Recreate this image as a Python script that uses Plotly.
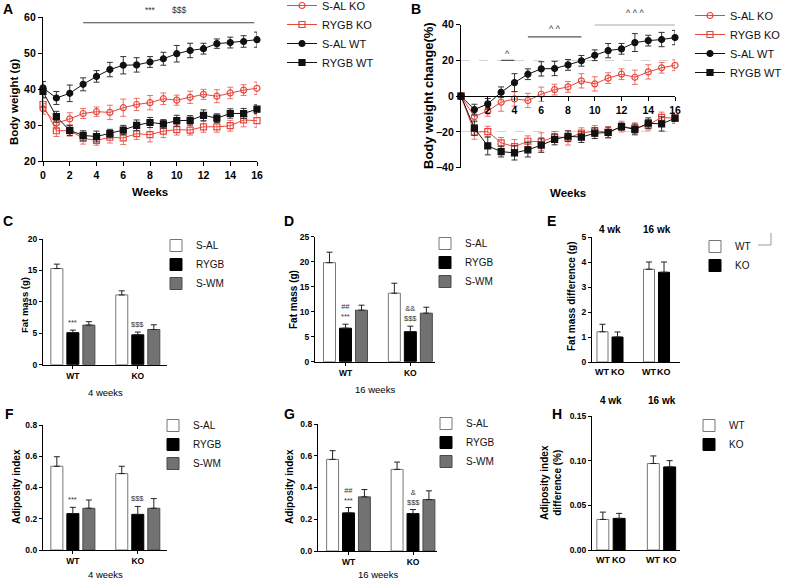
import plotly.graph_objects as go

W, H = 787, 581
FONT = "Liberation Sans, Arial, Helvetica, sans-serif"
RED = "#e8463c"
RED_ERR = "rgba(232,70,60,0.75)"
BLK = "#111111"
BLK_ERR = "#333333"

# ---------------- Panel A / B data ----------------
weeks = list(range(17))
series_names = ["S-AL KO", "RYGB KO", "S-AL WT", "RYGB WT"]

bw_sal_ko = [34.5, 30.5, 31.7, 33.2, 33.7, 33.5, 34.8, 35.7, 36.2, 37.3, 36.9, 37.7, 38.5, 38.0, 38.9, 39.7, 40.2]
bw_sal_ko_err = [1.5, 1.5, 1.7, 1.4, 1.3, 2.0, 2.4, 1.7, 2.0, 1.6, 1.4, 1.7, 1.4, 1.8, 1.6, 1.5, 1.7]
bw_rygb_ko = [35.7, 28.4, 28.4, 26.3, 25.7, 26.6, 26.4, 27.6, 27.3, 28.3, 28.7, 28.6, 29.5, 29.5, 29.8, 31.4, 31.2]
bw_rygb_ko_err = [1.7, 1.6, 1.5, 1.6, 1.3, 1.6, 1.8, 1.6, 2.0, 1.8, 1.5, 1.4, 1.5, 1.5, 1.5, 1.9, 1.8]
bw_sal_wt = [40.3, 37.5, 38.8, 41.3, 43.5, 45.4, 46.6, 46.7, 47.5, 48.4, 49.8, 50.7, 51.2, 52.6, 52.9, 53.2, 53.7]
bw_sal_wt_err = [1.8, 1.8, 2.3, 1.8, 1.6, 2.0, 2.4, 2.0, 1.5, 1.8, 2.3, 2.0, 1.5, 1.3, 1.5, 1.6, 2.1]
bw_rygb_wt = [39.3, 32.3, 28.5, 27.1, 26.8, 27.6, 28.6, 29.9, 30.7, 30.3, 31.2, 31.3, 32.7, 31.9, 33.2, 33.2, 34.4]
bw_rygb_wt_err = [1.6, 1.5, 1.4, 1.3, 1.5, 1.2, 1.3, 1.5, 1.4, 1.2, 1.5, 1.3, 1.5, 1.2, 1.3, 1.4, 1.2]

pct_sal_ko = [0, -11.4, -8.2, -3.4, -1.5, -2.4, 1.1, 3.7, 5.2, 8.6, 6.9, 10.1, 12.3, 10.6, 13.6, 15.9, 17.3]
pct_sal_ko_err = [0, 3, 3, 5, 4, 4, 4, 3, 3, 4, 4, 3, 3, 4, 4, 3, 3]
pct_rygb_ko = [0, -20.1, -19.8, -26.1, -28.2, -25.2, -25.5, -22.7, -23.3, -20.7, -19.4, -20.1, -17.0, -17.9, -16.0, -11.9, -12.3]
pct_rygb_ko_err = [0, 4, 3, 3, 4, 3, 5, 3, 4, 3, 3, 3, 3, 3, 3, 3, 3]
pct_sal_wt = [0, -7.5, -4.3, 2.2, 7.6, 12.3, 15.3, 15.5, 17.5, 19.8, 22.9, 25.5, 26.5, 30.0, 31.1, 31.7, 32.8]
pct_sal_wt_err = [0, 3, 3, 3, 5, 3, 4, 4, 3, 3, 3, 4, 3, 5, 3, 4, 4]
pct_rygb_wt = [0, -17.9, -27.8, -31.0, -31.7, -30.0, -27.4, -24.2, -22.4, -22.9, -20.7, -20.3, -17.0, -18.6, -15.1, -15.5, -12.3]
pct_rygb_wt_err = [0, 4, 5, 3, 4, 4, 4, 3, 3, 3, 3, 3, 2, 3, 3, 4, 2]

# significance bars (start week, end week, y value) and labels (text, week, y)
sig_A = [(3.0, 15.8, 58.4)]
sig_A_text = [("***", 8.0, 10), ("$$$", 10.2, 10)]
sig_B = [(3, 4, 20), (5, 9, 33.2), (10, 16, 40)]
sig_B_text = [("^", 3.5, 23.5), ("^ ^", 7, 37.5), ("^ ^ ^", 13, 46.5)]

# ---------------- Bar panel data ----------------
groups = ["WT", "KO"]
bar_names = ["S-AL", "RYGB", "S-WM"]

fat4_sal, fat4_sal_err = [15.3, 11.1], [0.7, 0.65]
fat4_rygb, fat4_rygb_err = [5.1, 4.75], [0.4, 0.45]
fat4_swm, fat4_swm_err = [6.3, 5.6], [0.55, 0.75]

fat16_sal, fat16_sal_err = [19.8, 13.7], [2.1, 2.0]
fat16_rygb, fat16_rygb_err = [6.7, 6.0], [0.8, 1.1]
fat16_swm, fat16_swm_err = [10.3, 9.7], [1.0, 1.2]

adi4_sal, adi4_sal_err = [0.536, 0.489], [0.061, 0.047]
adi4_rygb, adi4_rygb_err = [0.233, 0.228], [0.040, 0.051]
adi4_swm, adi4_swm_err = [0.267, 0.267], [0.053, 0.062]

adi16_sal, adi16_sal_err = [0.577, 0.514], [0.055, 0.046]
adi16_rygb, adi16_rygb_err = [0.240, 0.236], [0.034, 0.025]
adi16_swm, adi16_swm_err = [0.341, 0.324], [0.046, 0.055]

timepoints = ["4 wk", "16 wk"]
geno_names = ["WT", "KO"]
fatdiff_wt, fatdiff_wt_err = [1.21, 3.71], [0.30, 0.29]
fatdiff_ko, fatdiff_ko_err = [1.0, 3.59], [0.20, 0.41]
adidiff_wt, adidiff_wt_err = [0.0342, 0.0968], [0.0082, 0.0085]
adidiff_ko, adidiff_ko_err = [0.0354, 0.0930], [0.0056, 0.0070]

# significance labels on RYGB bars
sig_C = ["***", "$$$"]
sig_D = ["##<br>***", "&&<br>$$$"]
sig_F = ["***", "$$$"]
sig_G = ["##<br>***", "&<br>$$$"]

# ---------------- Figure ----------------
fig = go.Figure()


def xd(a, b):
    return [a / W, b / W]


def yd(top, bottom):
    return [1 - bottom / H, 1 - top / H]


axis_base = dict(showline=True, linecolor="black", linewidth=1.3, ticks="outside", automargin=False,
                 ticklen=4, tickwidth=1.3, tickcolor="black", showgrid=False, zeroline=False)

# --- Panels A & B (line charts) ---
line_specs = [
    (bw_sal_ko, bw_sal_ko_err, pct_sal_ko, pct_sal_ko_err, RED, RED_ERR, "circle-open"),
    (bw_rygb_ko, bw_rygb_ko_err, pct_rygb_ko, pct_rygb_ko_err, RED, RED_ERR, "square-open"),
    (bw_sal_wt, bw_sal_wt_err, pct_sal_wt, pct_sal_wt_err, BLK, BLK_ERR, "circle"),
    (bw_rygb_wt, bw_rygb_wt_err, pct_rygb_wt, pct_rygb_wt_err, BLK, BLK_ERR, "square"),
]
for name, (bw, bwe, pc, pce, col, ecol, sym) in zip(series_names, line_specs):
    for (yv, ev, ax, lg) in [(bw, bwe, "", "legend"), (pc, pce, "2", "legend2")]:
        fig.add_trace(go.Scatter(
            x=weeks, y=yv, name=name, mode="lines+markers",
            error_y=dict(type="data", array=ev, color=ecol, thickness=1, width=3),
            line=dict(color=col, width=1),
            marker=dict(symbol=sym, size=6, color=col, line=dict(color=col, width=1.2)),
            xaxis="x" + ax, yaxis="y" + ax, legend=lg, cliponaxis=False))

tickfont_big = dict(family=FONT, size=10.5, color="black", weight="bold")
fig.update_layout(
    xaxis=dict(axis_base, domain=xd(43, 257), range=[0, 16], tickvals=list(range(0, 17, 2)),
               tickfont=tickfont_big, anchor="y"),
    yaxis=dict(axis_base, domain=yd(17, 161), range=[20, 60], tickvals=[20, 30, 40, 50, 60],
               tickfont=tickfont_big, anchor="x"),
    xaxis2=dict(axis_base, domain=xd(461, 675), range=[0, 16], tickvals=list(range(2, 17, 2)),
                tickfont=tickfont_big, anchor="free", position=1 - 96.3 / H),
    yaxis2=dict(axis_base, domain=yd(24.7, 167.7), range=[-40, 40], tickvals=[-40, -20, 0, 20, 40],
                tickfont=tickfont_big, anchor="x2", showgrid=True, gridcolor="#d4d4d4",
                griddash="dash", gridwidth=1),
)

# --- Bar panels with three groups (C, D, F, G) ---
bar_style = [("white", "#777777"), ("black", "black"), ("#727272", "#4a4a4a")]


def bar3(ax, data, lg):
    for name, (vals, errs), (fill, outline) in zip(bar_names, data, bar_style):
        fig.add_trace(go.Bar(
            x=groups, y=vals, name=name,
            error_y=dict(type="data", symmetric=False, array=errs, arrayminus=[0] * len(vals),
                         color="#222222", thickness=1, width=3),
            marker=dict(color=fill, line=dict(color=outline, width=1)),
            xaxis="x" + ax, yaxis="y" + ax, legend=lg))


bar3("3", [(fat4_sal, fat4_sal_err), (fat4_rygb, fat4_rygb_err), (fat4_swm, fat4_swm_err)], "legend3")
bar3("4", [(fat16_sal, fat16_sal_err), (fat16_rygb, fat16_rygb_err), (fat16_swm, fat16_swm_err)], "legend4")
bar3("6", [(adi4_sal, adi4_sal_err), (adi4_rygb, adi4_rygb_err), (adi4_swm, adi4_swm_err)], "legend6")
bar3("7", [(adi16_sal, adi16_sal_err), (adi16_rygb, adi16_rygb_err), (adi16_swm, adi16_swm_err)], "legend7")

# --- Difference panels (E, H): two bars per time point ---
diff_off = [-0.28, 0.043]
diff_w = 0.237
diff_style = [("white", "#777777"), ("black", "black")]


def bar2(ax, data, lg):
    for name, (vals, errs), (fill, outline), off in zip(geno_names, data, diff_style, diff_off):
        fig.add_trace(go.Bar(
            x=timepoints, y=vals, name=name, offset=off, width=diff_w,
            error_y=dict(type="data", symmetric=False, array=errs, arrayminus=[0] * len(vals),
                         color="#222222", thickness=1, width=3),
            marker=dict(color=fill, line=dict(color=outline, width=1)),
            xaxis="x" + ax, yaxis="y" + ax, legend=lg))


bar2("5", [(fatdiff_wt, fatdiff_wt_err), (fatdiff_ko, fatdiff_ko_err)], "legend5")
bar2("8", [(adidiff_wt, adidiff_wt_err), (adidiff_ko, adidiff_ko_err)], "legend8")

tf_small = dict(family=FONT, size=8.5, color="black", weight="bold")
small_axis = dict(axis_base, ticklen=3, linewidth=1.2, tickwidth=1.2)
fig.update_layout(
    xaxis3=dict(small_axis, type="category", domain=xd(43, 167), range=[-0.46, 1.45], tickfont=tf_small, anchor="y3"),
    yaxis3=dict(small_axis, domain=yd(239, 364.7), range=[0, 20], tickvals=[0, 5, 10, 15, 20], tickfont=tf_small, anchor="x3"),
    xaxis4=dict(small_axis, type="category", domain=xd(315, 435), range=[-0.47, 1.38], tickfont=tf_small, anchor="y4"),
    yaxis4=dict(small_axis, domain=yd(236.7, 361.7), range=[0, 25], tickvals=[0, 5, 10, 15, 20, 25], tickfont=tf_small, anchor="x4"),
    xaxis5=dict(small_axis, type="category", domain=xd(592, 680), range=[-0.387, 1.505], showticklabels=False, ticks="", anchor="y5"),
    yaxis5=dict(small_axis, domain=yd(237, 362), range=[0, 5], tickvals=[0, 1, 2, 3, 4, 5], tickfont=tf_small, anchor="x5"),
    xaxis6=dict(small_axis, type="category", domain=xd(43, 167), range=[-0.46, 1.45], tickfont=tf_small, anchor="y6"),
    yaxis6=dict(small_axis, domain=yd(425, 550), range=[0, 0.8], tickvals=[0, 0.2, 0.4, 0.6, 0.8], tickformat=".1f", tickfont=tf_small, anchor="x6"),
    xaxis7=dict(small_axis, type="category", domain=xd(318, 437), range=[-0.473, 1.372], tickfont=tf_small, anchor="y7"),
    yaxis7=dict(small_axis, domain=yd(424, 551), range=[0, 0.8], tickvals=[0, 0.2, 0.4, 0.6, 0.8], tickformat=".1f", tickfont=tf_small, anchor="x7"),
    xaxis8=dict(small_axis, type="category", domain=xd(592, 680), range=[-0.376, 1.366], showticklabels=False, ticks="", anchor="y8"),
    yaxis8=dict(small_axis, domain=yd(416, 550), range=[0, 0.15], tickvals=[0, 0.05, 0.10, 0.15], tickformat=".2f", tickfont=tf_small, anchor="x8"),
)


# --- Legends ---
def leg(xpx, ypx, size, xanchor="left"):
    return dict(x=xpx / W, y=1 - ypx / H, xanchor=xanchor, yanchor="top",
                font=dict(family=FONT, size=size, color="#111111"),
                bgcolor="rgba(0,0,0,0)", borderwidth=0, tracegroupgap=0, itemwidth=30)


fig.update_layout(
    legend=leg(282, -9, 11), legend2=leg(W, 1, 11, xanchor="right"),
    legend3=leg(156, 231, 10), legend4=leg(425, 229, 10), legend5=leg(695, 232, 10),
    legend6=leg(153, 411, 10), legend7=leg(426, 409, 10), legend8=leg(689, 411, 10),
)

ann = []


def text(x, y, s, size, bold=False, xref="paper", yref="paper", angle=0, color="black",
         xanchor="center", yanchor="middle", **kw):
    ann.append(dict(x=x, y=y, text=s, xref=xref, yref=yref, showarrow=False, textangle=angle,
                    xanchor=xanchor, yanchor=yanchor,
                    font=dict(family=FONT, size=size, color=color, weight="bold" if bold else "normal"), **kw))


def px(xp, yp):
    return xp / W, 1 - yp / H


# panel letters
for letter, (lx, ly) in zip("ABCDEFGH", [(8, 9), (416, 9), (8, 221), (289, 221), (551, 221), (9, 414), (289, 414), (557, 414)]):
    text(*px(lx, ly), letter, 14, bold=True)

# axis titles
text(*px(14, 102), "Body weight (g)", 11.5, bold=True, angle=-90)
text(*px(150, 192), "Weeks", 11.5, bold=True)
text(*px(428, 96), "Body weight change(%)", 13, bold=True, angle=-90)
text(*px(568, 193), "Weeks", 11.5, bold=True)
text(*px(24, 305), "Fat mass (g)", 9.5, bold=True, angle=-90)
text(*px(293, 300), "Fat mass (g)", 10, bold=True, angle=-90)
text(*px(571, 297), "Fat mass difference (g)", 10, bold=True, angle=-90)
text(*px(16, 487), "Adiposity index", 10, bold=True, angle=-90)
text(*px(289, 487), "Adiposity index", 10, bold=True, angle=-90)
text(*px(551, 483), "Adiposity index<br>difference (%)", 10, bold=True, angle=-90)
text(*px(105, 392), "4 weeks", 9.5)
text(*px(375, 389), "16 weeks", 9.5)
text(*px(105, 574), "4 weeks", 9.5)
text(*px(378, 574), "16 weeks", 9.5)

# significance in A
for (x0, x1, yy) in sig_A:
    fig.add_shape(type="line", x0=x0, x1=x1, y0=yy, y1=yy, xref="x", yref="y", line=dict(color="#444444", width=1.2))
for s, xx, ypx in sig_A_text:
    text(xx, 1 - ypx / H, s, 8.5, xref="x", yref="paper", color="#333333")
# significance in B
for (x0, x1, yy) in sig_B:
    fig.add_shape(type="line", x0=x0, x1=x1, y0=yy, y1=yy, xref="x2", yref="y2", line=dict(color="#555555", width=1.3))
b_top, b_bot = 24.7, 167.7
for s, xx, yv in sig_B_text:
    ypx = b_top + (40 - yv) / 80 * (b_bot - b_top)
    text(xx, 1 - ypx / H, s, 9, xref="x2", yref="paper", color="#333333")

# significance on RYGB bars
for ax, sigs, vals, errs in [("3", sig_C, fat4_rygb, fat4_rygb_err), ("4", sig_D, fat16_rygb, fat16_rygb_err),
                              ("6", sig_F, adi4_rygb, adi4_rygb_err), ("7", sig_G, adi16_rygb, adi16_rygb_err)]:
    for g, s, v, e in zip(groups, sigs, vals, errs):
        ann.append(dict(x=g, y=v + e, xref="x" + ax, yref="y" + ax, text=s, showarrow=False,
                        yanchor="bottom", yshift=1,
                        font=dict(family=FONT, size=7.5, color="#333333")))

# E / H labels: time points on top, genotype under each bar
for ax, top_y in [("5", 229), ("8", 408)]:
    for i, tp in enumerate(timepoints):
        ann.append(dict(x=tp, y=1 - top_y / H, xref="x" + ax, yref="paper", text=tp, showarrow=False,
                        font=dict(family=FONT, size=10, color="black", weight="bold")))
        for gname, off in zip(geno_names, diff_off):
            ann.append(dict(x=i + off + diff_w / 2, y=0, xref="x" + ax, yref="y" + ax, text=gname,
                            showarrow=False, yanchor="top", yshift=-3,
                            font=dict(family=FONT, size=9, color="black", weight="bold")))

# small corner mark
fig.add_shape(type="line", xref="paper", yref="paper", x0=758 / W, x1=771 / W, y0=1 - 245 / H, y1=1 - 245 / H,
              line=dict(color="#9a9a9a", width=1))
fig.add_shape(type="line", xref="paper", yref="paper", x0=771 / W, x1=771 / W, y0=1 - 233 / H, y1=1 - 245 / H,
              line=dict(color="#9a9a9a", width=1))

fig.update_layout(
    annotations=ann,
    width=W, height=H, margin=dict(l=0, r=0, t=0, b=0, autoexpand=False),
    paper_bgcolor="white", plot_bgcolor="white",
    barmode="group", bargap=0.26, bargroupgap=0.25,
    font=dict(family=FONT, color="black"),
)

fig.write_html("out.html", config={"displayModeBar": False},
               post_script="document.body.style.margin='0px';document.body.style.padding='0px';")
